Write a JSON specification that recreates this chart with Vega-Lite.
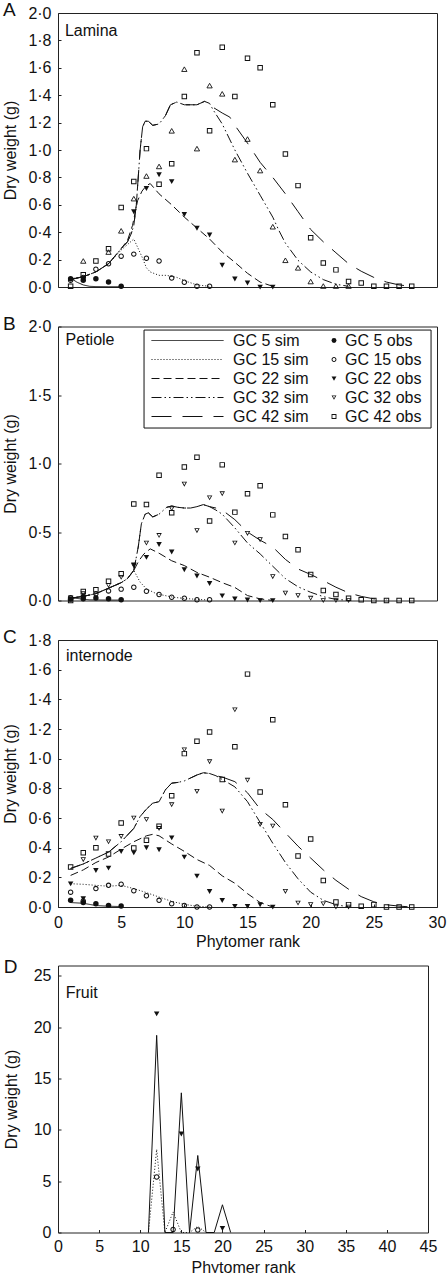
{
"$schema":"https://vega.github.io/schema/vega-lite/v6.json",
"padding":{"left":2,"top":0,"right":0,"bottom":0},
"spacing":6.5,
"config":{
 "locale":{"number":{"decimal":"·","thousands":",","grouping":[3],"currency":["",""]}},
 "font":"Liberation Sans",
 "view":{"stroke":"#222","strokeWidth":1},
 "axis":{"domain":false,"grid":false,"labelFont":"Liberation Sans","labelFontSize":16,"labelColor":"#111","titleFont":"Liberation Sans","titleFontSize":16,"titleFontWeight":"normal","titleColor":"#111","tickColor":"#222","tickSize":-3,"labelPadding":10,"labelFlush":false,"labelOverlap":false},
 "legend":{"labelFont":"Liberation Sans","labelFontSize":16,"labelColor":"#111","symbolStrokeColor":"#111","labelLimit":400},
 "title":{"fontSize":19,"fontWeight":"normal","anchor":"start","frame":"bounds","baseline":"alphabetic","offset":-15,"font":"Liberation Sans","color":"#111"}
},
"datasets":{
"sim":[
{"p":"A","s":"GC 5 sim","x":1,"y":0.065},{"p":"A","s":"GC 5 sim","x":1.5,"y":0.035},{"p":"A","s":"GC 5 sim","x":2,"y":0.015},{"p":"A","s":"GC 5 sim","x":2.5,"y":0.005},{"p":"A","s":"GC 5 sim","x":3,"y":0.003},{"p":"A","s":"GC 5 sim","x":4,"y":0.002},{"p":"A","s":"GC 5 sim","x":5,"y":0.002},
{"p":"A","s":"GC 15 sim","x":1,"y":0.06},{"p":"A","s":"GC 15 sim","x":2,"y":0.075},{"p":"A","s":"GC 15 sim","x":3,"y":0.11},{"p":"A","s":"GC 15 sim","x":4,"y":0.17},{"p":"A","s":"GC 15 sim","x":5,"y":0.27},{"p":"A","s":"GC 15 sim","x":5.5,"y":0.31},{"p":"A","s":"GC 15 sim","x":6,"y":0.35},{"p":"A","s":"GC 15 sim","x":6.3,"y":0.29},{"p":"A","s":"GC 15 sim","x":6.65,"y":0.22},{"p":"A","s":"GC 15 sim","x":7,"y":0.14},{"p":"A","s":"GC 15 sim","x":7.3,"y":0.11},{"p":"A","s":"GC 15 sim","x":8,"y":0.085},{"p":"A","s":"GC 15 sim","x":8.6,"y":0.085},{"p":"A","s":"GC 15 sim","x":9.4,"y":0.07},{"p":"A","s":"GC 15 sim","x":10.2,"y":0.04},{"p":"A","s":"GC 15 sim","x":11,"y":0.015},{"p":"A","s":"GC 15 sim","x":12,"y":0.005},
{"p":"A","s":"GC 22 sim","x":1,"y":0.055},{"p":"A","s":"GC 22 sim","x":2,"y":0.075},{"p":"A","s":"GC 22 sim","x":3,"y":0.11},{"p":"A","s":"GC 22 sim","x":4,"y":0.17},{"p":"A","s":"GC 22 sim","x":5,"y":0.28},{"p":"A","s":"GC 22 sim","x":5.5,"y":0.34},{"p":"A","s":"GC 22 sim","x":5.9,"y":0.45},{"p":"A","s":"GC 22 sim","x":6.3,"y":0.63},{"p":"A","s":"GC 22 sim","x":6.65,"y":0.7},{"p":"A","s":"GC 22 sim","x":7,"y":0.74},{"p":"A","s":"GC 22 sim","x":7.3,"y":0.755},{"p":"A","s":"GC 22 sim","x":8,"y":0.68},{"p":"A","s":"GC 22 sim","x":9,"y":0.6},{"p":"A","s":"GC 22 sim","x":10,"y":0.51},{"p":"A","s":"GC 22 sim","x":11,"y":0.43},{"p":"A","s":"GC 22 sim","x":12,"y":0.35},{"p":"A","s":"GC 22 sim","x":13,"y":0.255},{"p":"A","s":"GC 22 sim","x":14,"y":0.18},{"p":"A","s":"GC 22 sim","x":15,"y":0.1},{"p":"A","s":"GC 22 sim","x":16,"y":0.036},{"p":"A","s":"GC 22 sim","x":17,"y":0.005},
{"p":"A","s":"GC 32 sim","x":1,"y":0.055},{"p":"A","s":"GC 32 sim","x":2,"y":0.075},{"p":"A","s":"GC 32 sim","x":3,"y":0.11},{"p":"A","s":"GC 32 sim","x":4,"y":0.17},{"p":"A","s":"GC 32 sim","x":5,"y":0.28},{"p":"A","s":"GC 32 sim","x":5.5,"y":0.33},{"p":"A","s":"GC 32 sim","x":5.8,"y":0.39},{"p":"A","s":"GC 32 sim","x":6,"y":0.45},{"p":"A","s":"GC 32 sim","x":6.2,"y":0.6},{"p":"A","s":"GC 32 sim","x":6.5,"y":1.0},{"p":"A","s":"GC 32 sim","x":6.7,"y":1.17},{"p":"A","s":"GC 32 sim","x":6.9,"y":1.21},{"p":"A","s":"GC 32 sim","x":7.15,"y":1.21},{"p":"A","s":"GC 32 sim","x":7.5,"y":1.18},{"p":"A","s":"GC 32 sim","x":8,"y":1.19},{"p":"A","s":"GC 32 sim","x":8.5,"y":1.25},{"p":"A","s":"GC 32 sim","x":8.9,"y":1.33},{"p":"A","s":"GC 32 sim","x":9.4,"y":1.35},{"p":"A","s":"GC 32 sim","x":10,"y":1.33},{"p":"A","s":"GC 32 sim","x":11,"y":1.33},{"p":"A","s":"GC 32 sim","x":11.6,"y":1.355},{"p":"A","s":"GC 32 sim","x":12,"y":1.34},{"p":"A","s":"GC 32 sim","x":12.3,"y":1.29},{"p":"A","s":"GC 32 sim","x":13,"y":1.19},{"p":"A","s":"GC 32 sim","x":14,"y":1.0},{"p":"A","s":"GC 32 sim","x":15,"y":0.83},{"p":"A","s":"GC 32 sim","x":16,"y":0.67},{"p":"A","s":"GC 32 sim","x":17,"y":0.51},{"p":"A","s":"GC 32 sim","x":17.5,"y":0.41},{"p":"A","s":"GC 32 sim","x":18,"y":0.32},{"p":"A","s":"GC 32 sim","x":19,"y":0.195},{"p":"A","s":"GC 32 sim","x":20,"y":0.11},{"p":"A","s":"GC 32 sim","x":21,"y":0.054},{"p":"A","s":"GC 32 sim","x":22,"y":0.02},{"p":"A","s":"GC 32 sim","x":23,"y":0.005},
{"p":"A","s":"GC 42 sim","x":1,"y":0.055},{"p":"A","s":"GC 42 sim","x":2,"y":0.075},{"p":"A","s":"GC 42 sim","x":3,"y":0.11},{"p":"A","s":"GC 42 sim","x":4,"y":0.17},{"p":"A","s":"GC 42 sim","x":5,"y":0.28},{"p":"A","s":"GC 42 sim","x":5.5,"y":0.33},{"p":"A","s":"GC 42 sim","x":5.8,"y":0.39},{"p":"A","s":"GC 42 sim","x":6,"y":0.45},{"p":"A","s":"GC 42 sim","x":6.2,"y":0.6},{"p":"A","s":"GC 42 sim","x":6.5,"y":1.0},{"p":"A","s":"GC 42 sim","x":6.7,"y":1.17},{"p":"A","s":"GC 42 sim","x":6.9,"y":1.21},{"p":"A","s":"GC 42 sim","x":7.15,"y":1.21},{"p":"A","s":"GC 42 sim","x":7.5,"y":1.18},{"p":"A","s":"GC 42 sim","x":8,"y":1.19},{"p":"A","s":"GC 42 sim","x":8.5,"y":1.25},{"p":"A","s":"GC 42 sim","x":8.9,"y":1.33},{"p":"A","s":"GC 42 sim","x":9.4,"y":1.35},{"p":"A","s":"GC 42 sim","x":10,"y":1.33},{"p":"A","s":"GC 42 sim","x":11,"y":1.33},{"p":"A","s":"GC 42 sim","x":11.6,"y":1.355},{"p":"A","s":"GC 42 sim","x":12,"y":1.34},{"p":"A","s":"GC 42 sim","x":12.3,"y":1.31},{"p":"A","s":"GC 42 sim","x":13,"y":1.27},{"p":"A","s":"GC 42 sim","x":13.6,"y":1.24},{"p":"A","s":"GC 42 sim","x":14,"y":1.18},{"p":"A","s":"GC 42 sim","x":15,"y":1.05},{"p":"A","s":"GC 42 sim","x":16,"y":0.91},{"p":"A","s":"GC 42 sim","x":17,"y":0.8},{"p":"A","s":"GC 42 sim","x":18,"y":0.68},{"p":"A","s":"GC 42 sim","x":19,"y":0.55},{"p":"A","s":"GC 42 sim","x":20,"y":0.42},{"p":"A","s":"GC 42 sim","x":21,"y":0.33},{"p":"A","s":"GC 42 sim","x":22,"y":0.25},{"p":"A","s":"GC 42 sim","x":23,"y":0.17},{"p":"A","s":"GC 42 sim","x":24,"y":0.115},{"p":"A","s":"GC 42 sim","x":25,"y":0.07},{"p":"A","s":"GC 42 sim","x":26,"y":0.036},{"p":"A","s":"GC 42 sim","x":27,"y":0.015},{"p":"A","s":"GC 42 sim","x":28,"y":0.005},
{"p":"B","s":"GC 5 sim","x":1,"y":0.02},{"p":"B","s":"GC 5 sim","x":2,"y":0.01},{"p":"B","s":"GC 5 sim","x":2.5,"y":0.005},{"p":"B","s":"GC 5 sim","x":3,"y":0.004},{"p":"B","s":"GC 5 sim","x":4,"y":0.003},{"p":"B","s":"GC 5 sim","x":5,"y":0.003},
{"p":"B","s":"GC 15 sim","x":1,"y":0.017},{"p":"B","s":"GC 15 sim","x":2,"y":0.03},{"p":"B","s":"GC 15 sim","x":3,"y":0.05},{"p":"B","s":"GC 15 sim","x":4,"y":0.09},{"p":"B","s":"GC 15 sim","x":5,"y":0.13},{"p":"B","s":"GC 15 sim","x":5.5,"y":0.16},{"p":"B","s":"GC 15 sim","x":6,"y":0.22},{"p":"B","s":"GC 15 sim","x":6.5,"y":0.134},{"p":"B","s":"GC 15 sim","x":7,"y":0.085},{"p":"B","s":"GC 15 sim","x":7.8,"y":0.049},{"p":"B","s":"GC 15 sim","x":9.1,"y":0.024},{"p":"B","s":"GC 15 sim","x":10,"y":0.015},{"p":"B","s":"GC 15 sim","x":11.2,"y":0.007},{"p":"B","s":"GC 15 sim","x":12,"y":0.004},
{"p":"B","s":"GC 22 sim","x":1,"y":0.017},{"p":"B","s":"GC 22 sim","x":2,"y":0.03},{"p":"B","s":"GC 22 sim","x":3,"y":0.05},{"p":"B","s":"GC 22 sim","x":4,"y":0.09},{"p":"B","s":"GC 22 sim","x":5,"y":0.13},{"p":"B","s":"GC 22 sim","x":5.5,"y":0.16},{"p":"B","s":"GC 22 sim","x":6,"y":0.22},{"p":"B","s":"GC 22 sim","x":6.4,"y":0.29},{"p":"B","s":"GC 22 sim","x":6.8,"y":0.34},{"p":"B","s":"GC 22 sim","x":7.3,"y":0.377},{"p":"B","s":"GC 22 sim","x":8,"y":0.345},{"p":"B","s":"GC 22 sim","x":9,"y":0.29},{"p":"B","s":"GC 22 sim","x":10,"y":0.255},{"p":"B","s":"GC 22 sim","x":11,"y":0.205},{"p":"B","s":"GC 22 sim","x":12,"y":0.17},{"p":"B","s":"GC 22 sim","x":13,"y":0.13},{"p":"B","s":"GC 22 sim","x":14,"y":0.095},{"p":"B","s":"GC 22 sim","x":15,"y":0.036},{"p":"B","s":"GC 22 sim","x":16,"y":0.012},{"p":"B","s":"GC 22 sim","x":17,"y":0},
{"p":"B","s":"GC 32 sim","x":1,"y":0.017},{"p":"B","s":"GC 32 sim","x":2,"y":0.03},{"p":"B","s":"GC 32 sim","x":3,"y":0.05},{"p":"B","s":"GC 32 sim","x":4,"y":0.09},{"p":"B","s":"GC 32 sim","x":4.5,"y":0.11},{"p":"B","s":"GC 32 sim","x":5,"y":0.13},{"p":"B","s":"GC 32 sim","x":5.5,"y":0.16},{"p":"B","s":"GC 32 sim","x":6,"y":0.22},{"p":"B","s":"GC 32 sim","x":6.35,"y":0.39},{"p":"B","s":"GC 32 sim","x":6.6,"y":0.56},{"p":"B","s":"GC 32 sim","x":6.9,"y":0.63},{"p":"B","s":"GC 32 sim","x":7.15,"y":0.64},{"p":"B","s":"GC 32 sim","x":7.5,"y":0.61},{"p":"B","s":"GC 32 sim","x":8,"y":0.63},{"p":"B","s":"GC 32 sim","x":8.6,"y":0.68},{"p":"B","s":"GC 32 sim","x":9,"y":0.69},{"p":"B","s":"GC 32 sim","x":9.5,"y":0.68},{"p":"B","s":"GC 32 sim","x":10,"y":0.675},{"p":"B","s":"GC 32 sim","x":10.5,"y":0.675},{"p":"B","s":"GC 32 sim","x":11,"y":0.685},{"p":"B","s":"GC 32 sim","x":11.5,"y":0.7},{"p":"B","s":"GC 32 sim","x":12,"y":0.685},{"p":"B","s":"GC 32 sim","x":12.5,"y":0.66},{"p":"B","s":"GC 32 sim","x":13,"y":0.63},{"p":"B","s":"GC 32 sim","x":14,"y":0.53},{"p":"B","s":"GC 32 sim","x":15,"y":0.42},{"p":"B","s":"GC 32 sim","x":16,"y":0.34},{"p":"B","s":"GC 32 sim","x":17,"y":0.25},{"p":"B","s":"GC 32 sim","x":18,"y":0.16},{"p":"B","s":"GC 32 sim","x":19,"y":0.1},{"p":"B","s":"GC 32 sim","x":20,"y":0.06},{"p":"B","s":"GC 32 sim","x":21,"y":0.028},{"p":"B","s":"GC 32 sim","x":22,"y":0.008},{"p":"B","s":"GC 32 sim","x":23,"y":0.002},
{"p":"B","s":"GC 42 sim","x":1,"y":0.017},{"p":"B","s":"GC 42 sim","x":2,"y":0.03},{"p":"B","s":"GC 42 sim","x":3,"y":0.05},{"p":"B","s":"GC 42 sim","x":4,"y":0.09},{"p":"B","s":"GC 42 sim","x":4.5,"y":0.11},{"p":"B","s":"GC 42 sim","x":5,"y":0.13},{"p":"B","s":"GC 42 sim","x":5.5,"y":0.16},{"p":"B","s":"GC 42 sim","x":6,"y":0.22},{"p":"B","s":"GC 42 sim","x":6.35,"y":0.39},{"p":"B","s":"GC 42 sim","x":6.6,"y":0.56},{"p":"B","s":"GC 42 sim","x":6.9,"y":0.63},{"p":"B","s":"GC 42 sim","x":7.15,"y":0.64},{"p":"B","s":"GC 42 sim","x":7.5,"y":0.61},{"p":"B","s":"GC 42 sim","x":8,"y":0.63},{"p":"B","s":"GC 42 sim","x":8.6,"y":0.68},{"p":"B","s":"GC 42 sim","x":9,"y":0.69},{"p":"B","s":"GC 42 sim","x":9.5,"y":0.68},{"p":"B","s":"GC 42 sim","x":10,"y":0.675},{"p":"B","s":"GC 42 sim","x":10.5,"y":0.675},{"p":"B","s":"GC 42 sim","x":11,"y":0.685},{"p":"B","s":"GC 42 sim","x":11.5,"y":0.7},{"p":"B","s":"GC 42 sim","x":12,"y":0.685},{"p":"B","s":"GC 42 sim","x":12.5,"y":0.675},{"p":"B","s":"GC 42 sim","x":13,"y":0.66},{"p":"B","s":"GC 42 sim","x":14,"y":0.59},{"p":"B","s":"GC 42 sim","x":15,"y":0.5},{"p":"B","s":"GC 42 sim","x":16,"y":0.44},{"p":"B","s":"GC 42 sim","x":17,"y":0.39},{"p":"B","s":"GC 42 sim","x":18,"y":0.3},{"p":"B","s":"GC 42 sim","x":19,"y":0.23},{"p":"B","s":"GC 42 sim","x":20,"y":0.19},{"p":"B","s":"GC 42 sim","x":21,"y":0.145},{"p":"B","s":"GC 42 sim","x":22,"y":0.097},{"p":"B","s":"GC 42 sim","x":23,"y":0.056},{"p":"B","s":"GC 42 sim","x":24,"y":0.03},{"p":"B","s":"GC 42 sim","x":25,"y":0.012},{"p":"B","s":"GC 42 sim","x":26,"y":0.005},
{"p":"C","s":"GC 5 sim","x":1,"y":0.03},{"p":"C","s":"GC 5 sim","x":2,"y":0.025},{"p":"C","s":"GC 5 sim","x":3,"y":0.01},{"p":"C","s":"GC 5 sim","x":4,"y":0.005},{"p":"C","s":"GC 5 sim","x":5,"y":0.003},
{"p":"C","s":"GC 15 sim","x":1,"y":0.157},{"p":"C","s":"GC 15 sim","x":2,"y":0.153},{"p":"C","s":"GC 15 sim","x":3,"y":0.146},{"p":"C","s":"GC 15 sim","x":4,"y":0.14},{"p":"C","s":"GC 15 sim","x":5,"y":0.146},{"p":"C","s":"GC 15 sim","x":6,"y":0.124},{"p":"C","s":"GC 15 sim","x":7,"y":0.097},{"p":"C","s":"GC 15 sim","x":8,"y":0.067},{"p":"C","s":"GC 15 sim","x":9,"y":0.038},{"p":"C","s":"GC 15 sim","x":10,"y":0.018},{"p":"C","s":"GC 15 sim","x":11,"y":0.005},{"p":"C","s":"GC 15 sim","x":12,"y":0},
{"p":"C","s":"GC 22 sim","x":1,"y":0.213},{"p":"C","s":"GC 22 sim","x":2,"y":0.25},{"p":"C","s":"GC 22 sim","x":3,"y":0.3},{"p":"C","s":"GC 22 sim","x":4,"y":0.337},{"p":"C","s":"GC 22 sim","x":5,"y":0.39},{"p":"C","s":"GC 22 sim","x":6,"y":0.44},{"p":"C","s":"GC 22 sim","x":7,"y":0.48},{"p":"C","s":"GC 22 sim","x":7.5,"y":0.49},{"p":"C","s":"GC 22 sim","x":8,"y":0.48},{"p":"C","s":"GC 22 sim","x":9,"y":0.425},{"p":"C","s":"GC 22 sim","x":10,"y":0.375},{"p":"C","s":"GC 22 sim","x":11,"y":0.32},{"p":"C","s":"GC 22 sim","x":12,"y":0.28},{"p":"C","s":"GC 22 sim","x":13,"y":0.21},{"p":"C","s":"GC 22 sim","x":14,"y":0.16},{"p":"C","s":"GC 22 sim","x":15,"y":0.09},{"p":"C","s":"GC 22 sim","x":16,"y":0.03},{"p":"C","s":"GC 22 sim","x":17,"y":0},
{"p":"C","s":"GC 32 sim","x":1,"y":0.26},{"p":"C","s":"GC 32 sim","x":2,"y":0.29},{"p":"C","s":"GC 32 sim","x":3,"y":0.33},{"p":"C","s":"GC 32 sim","x":4,"y":0.37},{"p":"C","s":"GC 32 sim","x":5,"y":0.44},{"p":"C","s":"GC 32 sim","x":6,"y":0.53},{"p":"C","s":"GC 32 sim","x":6.5,"y":0.61},{"p":"C","s":"GC 32 sim","x":7,"y":0.66},{"p":"C","s":"GC 32 sim","x":7.5,"y":0.7},{"p":"C","s":"GC 32 sim","x":8,"y":0.71},{"p":"C","s":"GC 32 sim","x":8.5,"y":0.79},{"p":"C","s":"GC 32 sim","x":9,"y":0.835},{"p":"C","s":"GC 32 sim","x":9.5,"y":0.84},{"p":"C","s":"GC 32 sim","x":10,"y":0.85},{"p":"C","s":"GC 32 sim","x":10.5,"y":0.87},{"p":"C","s":"GC 32 sim","x":11,"y":0.89},{"p":"C","s":"GC 32 sim","x":11.5,"y":0.905},{"p":"C","s":"GC 32 sim","x":12,"y":0.9},{"p":"C","s":"GC 32 sim","x":12.5,"y":0.885},{"p":"C","s":"GC 32 sim","x":13,"y":0.86},{"p":"C","s":"GC 32 sim","x":14,"y":0.81},{"p":"C","s":"GC 32 sim","x":15,"y":0.71},{"p":"C","s":"GC 32 sim","x":16,"y":0.57},{"p":"C","s":"GC 32 sim","x":17,"y":0.43},{"p":"C","s":"GC 32 sim","x":18,"y":0.3},{"p":"C","s":"GC 32 sim","x":19,"y":0.19},{"p":"C","s":"GC 32 sim","x":20,"y":0.1},{"p":"C","s":"GC 32 sim","x":21,"y":0.045},{"p":"C","s":"GC 32 sim","x":22,"y":0.016},{"p":"C","s":"GC 32 sim","x":23,"y":0},
{"p":"C","s":"GC 42 sim","x":1,"y":0.26},{"p":"C","s":"GC 42 sim","x":2,"y":0.29},{"p":"C","s":"GC 42 sim","x":3,"y":0.33},{"p":"C","s":"GC 42 sim","x":4,"y":0.37},{"p":"C","s":"GC 42 sim","x":5,"y":0.44},{"p":"C","s":"GC 42 sim","x":6,"y":0.53},{"p":"C","s":"GC 42 sim","x":6.5,"y":0.61},{"p":"C","s":"GC 42 sim","x":7,"y":0.66},{"p":"C","s":"GC 42 sim","x":7.5,"y":0.7},{"p":"C","s":"GC 42 sim","x":8,"y":0.71},{"p":"C","s":"GC 42 sim","x":8.5,"y":0.79},{"p":"C","s":"GC 42 sim","x":9,"y":0.835},{"p":"C","s":"GC 42 sim","x":9.5,"y":0.84},{"p":"C","s":"GC 42 sim","x":10,"y":0.85},{"p":"C","s":"GC 42 sim","x":10.5,"y":0.87},{"p":"C","s":"GC 42 sim","x":11,"y":0.89},{"p":"C","s":"GC 42 sim","x":11.5,"y":0.905},{"p":"C","s":"GC 42 sim","x":12,"y":0.9},{"p":"C","s":"GC 42 sim","x":12.5,"y":0.885},{"p":"C","s":"GC 42 sim","x":13,"y":0.876},{"p":"C","s":"GC 42 sim","x":14,"y":0.845},{"p":"C","s":"GC 42 sim","x":15,"y":0.77},{"p":"C","s":"GC 42 sim","x":16,"y":0.66},{"p":"C","s":"GC 42 sim","x":17,"y":0.59},{"p":"C","s":"GC 42 sim","x":18,"y":0.5},{"p":"C","s":"GC 42 sim","x":19,"y":0.41},{"p":"C","s":"GC 42 sim","x":20,"y":0.33},{"p":"C","s":"GC 42 sim","x":21,"y":0.25},{"p":"C","s":"GC 42 sim","x":22,"y":0.18},{"p":"C","s":"GC 42 sim","x":23,"y":0.12},{"p":"C","s":"GC 42 sim","x":24,"y":0.07},{"p":"C","s":"GC 42 sim","x":25,"y":0.035},{"p":"C","s":"GC 42 sim","x":26,"y":0.015},{"p":"C","s":"GC 42 sim","x":27,"y":0.006},{"p":"C","s":"GC 42 sim","x":28,"y":0},
{"p":"D","s":"GC 22 sim","x":11,"y":0},{"p":"D","s":"GC 22 sim","x":12,"y":19.2},{"p":"D","s":"GC 22 sim","x":13,"y":0},{"p":"D","s":"GC 22 sim","x":14,"y":0},{"p":"D","s":"GC 22 sim","x":15,"y":13.6},{"p":"D","s":"GC 22 sim","x":16,"y":0},{"p":"D","s":"GC 22 sim","x":17,"y":7.5},{"p":"D","s":"GC 22 sim","x":18,"y":0},{"p":"D","s":"GC 22 sim","x":19,"y":0},{"p":"D","s":"GC 22 sim","x":20,"y":2.7},{"p":"D","s":"GC 22 sim","x":21,"y":0},
{"p":"D","s":"GC 15 sim","x":11,"y":0},{"p":"D","s":"GC 15 sim","x":12,"y":8.1},{"p":"D","s":"GC 15 sim","x":13,"y":0},{"p":"D","s":"GC 15 sim","x":14,"y":2.0},{"p":"D","s":"GC 15 sim","x":15,"y":0},{"p":"D","s":"GC 15 sim","x":16,"y":0},{"p":"D","s":"GC 15 sim","x":17,"y":0.6},{"p":"D","s":"GC 15 sim","x":18,"y":0}
],
"obs":[
{"p":"A","s":"GC 5 obs","x":1,"y":0.06},{"p":"A","s":"GC 5 obs","x":2,"y":0.05},{"p":"A","s":"GC 5 obs","x":3,"y":0.061},{"p":"A","s":"GC 5 obs","x":4,"y":0.037},{"p":"A","s":"GC 5 obs","x":5,"y":0.005},
{"p":"A","s":"GC 15 obs","x":1,"y":0.05},{"p":"A","s":"GC 15 obs","x":2,"y":0.07},{"p":"A","s":"GC 15 obs","x":3,"y":0.13},{"p":"A","s":"GC 15 obs","x":4,"y":0.17},{"p":"A","s":"GC 15 obs","x":5,"y":0.225},{"p":"A","s":"GC 15 obs","x":6,"y":0.24},{"p":"A","s":"GC 15 obs","x":7,"y":0.21},{"p":"A","s":"GC 15 obs","x":8,"y":0.19},{"p":"A","s":"GC 15 obs","x":9,"y":0.065},{"p":"A","s":"GC 15 obs","x":10,"y":0.035},{"p":"A","s":"GC 15 obs","x":11,"y":0.005},{"p":"A","s":"GC 15 obs","x":12,"y":0.005},
{"p":"A","s":"GC 22 obs","x":2,"y":0.06},{"p":"A","s":"GC 22 obs","x":6,"y":0.55},{"p":"A","s":"GC 22 obs","x":7,"y":0.72},{"p":"A","s":"GC 22 obs","x":8,"y":0.82},{"p":"A","s":"GC 22 obs","x":9,"y":0.77},{"p":"A","s":"GC 22 obs","x":10,"y":0.53},{"p":"A","s":"GC 22 obs","x":11,"y":0.43},{"p":"A","s":"GC 22 obs","x":12,"y":0.38},{"p":"A","s":"GC 22 obs","x":13,"y":0.16},{"p":"A","s":"GC 22 obs","x":14,"y":0.06},{"p":"A","s":"GC 22 obs","x":15,"y":0.03},{"p":"A","s":"GC 22 obs","x":16,"y":0},{"p":"A","s":"GC 22 obs","x":17,"y":0},
{"p":"A","s":"GC 32 obs","x":2,"y":0.19},{"p":"A","s":"GC 32 obs","x":4,"y":0.255},{"p":"A","s":"GC 32 obs","x":5,"y":0.41},{"p":"A","s":"GC 32 obs","x":6,"y":0.645},{"p":"A","s":"GC 32 obs","x":7,"y":0.81},{"p":"A","s":"GC 32 obs","x":8,"y":0.88},{"p":"A","s":"GC 32 obs","x":9,"y":1.14},{"p":"A","s":"GC 32 obs","x":10,"y":1.59},{"p":"A","s":"GC 32 obs","x":11,"y":1.01},{"p":"A","s":"GC 32 obs","x":12,"y":1.47},{"p":"A","s":"GC 32 obs","x":13,"y":1.41},{"p":"A","s":"GC 32 obs","x":14,"y":0.93},{"p":"A","s":"GC 32 obs","x":15,"y":1.08},{"p":"A","s":"GC 32 obs","x":16,"y":0.85},{"p":"A","s":"GC 32 obs","x":17,"y":0.44},{"p":"A","s":"GC 32 obs","x":18,"y":0.195},{"p":"A","s":"GC 32 obs","x":19,"y":0.14},{"p":"A","s":"GC 32 obs","x":20,"y":0.04},{"p":"A","s":"GC 32 obs","x":21,"y":0.007},{"p":"A","s":"GC 32 obs","x":22,"y":0.007},{"p":"A","s":"GC 32 obs","x":23,"y":0.007},
{"p":"A","s":"GC 42 obs","x":1,"y":0.005},{"p":"A","s":"GC 42 obs","x":2,"y":0.09},{"p":"A","s":"GC 42 obs","x":3,"y":0.19},{"p":"A","s":"GC 42 obs","x":4,"y":0.28},{"p":"A","s":"GC 42 obs","x":5,"y":0.58},{"p":"A","s":"GC 42 obs","x":6,"y":0.77},{"p":"A","s":"GC 42 obs","x":7,"y":1.01},{"p":"A","s":"GC 42 obs","x":8,"y":0.75},{"p":"A","s":"GC 42 obs","x":9,"y":0.9},{"p":"A","s":"GC 42 obs","x":10,"y":1.39},{"p":"A","s":"GC 42 obs","x":11,"y":1.71},{"p":"A","s":"GC 42 obs","x":12,"y":1.14},{"p":"A","s":"GC 42 obs","x":13,"y":1.75},{"p":"A","s":"GC 42 obs","x":14,"y":1.39},{"p":"A","s":"GC 42 obs","x":15,"y":1.67},{"p":"A","s":"GC 42 obs","x":16,"y":1.6},{"p":"A","s":"GC 42 obs","x":17,"y":1.33},{"p":"A","s":"GC 42 obs","x":18,"y":0.97},{"p":"A","s":"GC 42 obs","x":19,"y":0.74},{"p":"A","s":"GC 42 obs","x":20,"y":0.36},{"p":"A","s":"GC 42 obs","x":21,"y":0.175},{"p":"A","s":"GC 42 obs","x":22,"y":0.125},{"p":"A","s":"GC 42 obs","x":23,"y":0.04},{"p":"A","s":"GC 42 obs","x":24,"y":0.03},{"p":"A","s":"GC 42 obs","x":25,"y":0.005},{"p":"A","s":"GC 42 obs","x":26,"y":0.005},{"p":"A","s":"GC 42 obs","x":27,"y":0.005},{"p":"A","s":"GC 42 obs","x":28,"y":0.005},
{"p":"B","s":"GC 5 obs","x":1,"y":0.01},{"p":"B","s":"GC 5 obs","x":2,"y":0.012},{"p":"B","s":"GC 5 obs","x":3,"y":0.019},{"p":"B","s":"GC 5 obs","x":4,"y":0.012},{"p":"B","s":"GC 5 obs","x":5,"y":0.005},
{"p":"B","s":"GC 15 obs","x":1,"y":0.02},{"p":"B","s":"GC 15 obs","x":2,"y":0.03},{"p":"B","s":"GC 15 obs","x":3,"y":0.05},{"p":"B","s":"GC 15 obs","x":4,"y":0.07},{"p":"B","s":"GC 15 obs","x":5,"y":0.083},{"p":"B","s":"GC 15 obs","x":6,"y":0.097},{"p":"B","s":"GC 15 obs","x":7,"y":0.068},{"p":"B","s":"GC 15 obs","x":8,"y":0.044},{"p":"B","s":"GC 15 obs","x":9,"y":0.024},{"p":"B","s":"GC 15 obs","x":10,"y":0.017},{"p":"B","s":"GC 15 obs","x":11,"y":0.005},{"p":"B","s":"GC 15 obs","x":12,"y":0.005},
{"p":"B","s":"GC 22 obs","x":1,"y":0.01},{"p":"B","s":"GC 22 obs","x":2,"y":0.025},{"p":"B","s":"GC 22 obs","x":6,"y":0.26},{"p":"B","s":"GC 22 obs","x":7,"y":0.316},{"p":"B","s":"GC 22 obs","x":8,"y":0.41},{"p":"B","s":"GC 22 obs","x":9,"y":0.355},{"p":"B","s":"GC 22 obs","x":10,"y":0.225},{"p":"B","s":"GC 22 obs","x":11,"y":0.18},{"p":"B","s":"GC 22 obs","x":12,"y":0.125},{"p":"B","s":"GC 22 obs","x":13,"y":0.035},{"p":"B","s":"GC 22 obs","x":14,"y":0.012},{"p":"B","s":"GC 22 obs","x":15,"y":0.005},{"p":"B","s":"GC 22 obs","x":16,"y":0},{"p":"B","s":"GC 22 obs","x":17,"y":0},
{"p":"B","s":"GC 32 obs","x":1,"y":0.02},{"p":"B","s":"GC 32 obs","x":2,"y":0.05},{"p":"B","s":"GC 32 obs","x":4,"y":0.11},{"p":"B","s":"GC 32 obs","x":5,"y":0.17},{"p":"B","s":"GC 32 obs","x":6,"y":0.255},{"p":"B","s":"GC 32 obs","x":7,"y":0.42},{"p":"B","s":"GC 32 obs","x":8,"y":0.475},{"p":"B","s":"GC 32 obs","x":9,"y":0.67},{"p":"B","s":"GC 32 obs","x":10,"y":0.85},{"p":"B","s":"GC 32 obs","x":11,"y":0.51},{"p":"B","s":"GC 32 obs","x":12,"y":0.75},{"p":"B","s":"GC 32 obs","x":13,"y":0.78},{"p":"B","s":"GC 32 obs","x":14,"y":0.42},{"p":"B","s":"GC 32 obs","x":15,"y":0.49},{"p":"B","s":"GC 32 obs","x":16,"y":0.445},{"p":"B","s":"GC 32 obs","x":17,"y":0.175},{"p":"B","s":"GC 32 obs","x":18,"y":0.054},{"p":"B","s":"GC 32 obs","x":19,"y":0.036},{"p":"B","s":"GC 32 obs","x":20,"y":0.017},{"p":"B","s":"GC 32 obs","x":21,"y":0},{"p":"B","s":"GC 32 obs","x":22,"y":0},{"p":"B","s":"GC 32 obs","x":23,"y":0},
{"p":"B","s":"GC 42 obs","x":1,"y":0},{"p":"B","s":"GC 42 obs","x":2,"y":0.065},{"p":"B","s":"GC 42 obs","x":3,"y":0.078},{"p":"B","s":"GC 42 obs","x":4,"y":0.14},{"p":"B","s":"GC 42 obs","x":5,"y":0.195},{"p":"B","s":"GC 42 obs","x":6,"y":0.705},{"p":"B","s":"GC 42 obs","x":7,"y":0.7},{"p":"B","s":"GC 42 obs","x":8,"y":0.915},{"p":"B","s":"GC 42 obs","x":9,"y":0.64},{"p":"B","s":"GC 42 obs","x":10,"y":0.975},{"p":"B","s":"GC 42 obs","x":11,"y":1.045},{"p":"B","s":"GC 42 obs","x":12,"y":0.58},{"p":"B","s":"GC 42 obs","x":13,"y":0.99},{"p":"B","s":"GC 42 obs","x":14,"y":0.645},{"p":"B","s":"GC 42 obs","x":15,"y":0.78},{"p":"B","s":"GC 42 obs","x":16,"y":0.837},{"p":"B","s":"GC 42 obs","x":17,"y":0.625},{"p":"B","s":"GC 42 obs","x":18,"y":0.467},{"p":"B","s":"GC 42 obs","x":19,"y":0.37},{"p":"B","s":"GC 42 obs","x":20,"y":0.19},{"p":"B","s":"GC 42 obs","x":21,"y":0.073},{"p":"B","s":"GC 42 obs","x":22,"y":0.044},{"p":"B","s":"GC 42 obs","x":23,"y":0.017},{"p":"B","s":"GC 42 obs","x":24,"y":0.005},{"p":"B","s":"GC 42 obs","x":25,"y":0},{"p":"B","s":"GC 42 obs","x":26,"y":0},{"p":"B","s":"GC 42 obs","x":27,"y":0},{"p":"B","s":"GC 42 obs","x":28,"y":0},
{"p":"C","s":"GC 5 obs","x":1,"y":0.045},{"p":"C","s":"GC 5 obs","x":2,"y":0.03},{"p":"C","s":"GC 5 obs","x":3,"y":0.022},{"p":"C","s":"GC 5 obs","x":4,"y":0.011},{"p":"C","s":"GC 5 obs","x":5,"y":0.007},
{"p":"C","s":"GC 15 obs","x":1,"y":0.1},{"p":"C","s":"GC 15 obs","x":2,"y":0.04},{"p":"C","s":"GC 15 obs","x":3,"y":0.124},{"p":"C","s":"GC 15 obs","x":4,"y":0.146},{"p":"C","s":"GC 15 obs","x":5,"y":0.153},{"p":"C","s":"GC 15 obs","x":6,"y":0.11},{"p":"C","s":"GC 15 obs","x":7,"y":0.076},{"p":"C","s":"GC 15 obs","x":8,"y":0.045},{"p":"C","s":"GC 15 obs","x":9,"y":0.022},{"p":"C","s":"GC 15 obs","x":10,"y":0.011},{"p":"C","s":"GC 15 obs","x":11,"y":0},{"p":"C","s":"GC 15 obs","x":12,"y":0},
{"p":"C","s":"GC 22 obs","x":1,"y":0.157},{"p":"C","s":"GC 22 obs","x":2,"y":0.056},{"p":"C","s":"GC 22 obs","x":3,"y":0.247},{"p":"C","s":"GC 22 obs","x":4,"y":0.263},{"p":"C","s":"GC 22 obs","x":5,"y":0.375},{"p":"C","s":"GC 22 obs","x":6,"y":0.366},{"p":"C","s":"GC 22 obs","x":7,"y":0.4},{"p":"C","s":"GC 22 obs","x":8,"y":0.387},{"p":"C","s":"GC 22 obs","x":9,"y":0.467},{"p":"C","s":"GC 22 obs","x":10,"y":0.337},{"p":"C","s":"GC 22 obs","x":11,"y":0.209},{"p":"C","s":"GC 22 obs","x":12,"y":0.106},{"p":"C","s":"GC 22 obs","x":13,"y":0.045},{"p":"C","s":"GC 22 obs","x":14,"y":0.005},{"p":"C","s":"GC 22 obs","x":15,"y":0.005},{"p":"C","s":"GC 22 obs","x":16,"y":0.016},{"p":"C","s":"GC 22 obs","x":17,"y":0},
{"p":"C","s":"GC 32 obs","x":2,"y":0.32},{"p":"C","s":"GC 32 obs","x":3,"y":0.465},{"p":"C","s":"GC 32 obs","x":4,"y":0.44},{"p":"C","s":"GC 32 obs","x":5,"y":0.476},{"p":"C","s":"GC 32 obs","x":6,"y":0.6},{"p":"C","s":"GC 32 obs","x":7,"y":0.59},{"p":"C","s":"GC 32 obs","x":8,"y":0.53},{"p":"C","s":"GC 32 obs","x":9,"y":0.69},{"p":"C","s":"GC 32 obs","x":10,"y":1.06},{"p":"C","s":"GC 32 obs","x":11,"y":0.78},{"p":"C","s":"GC 32 obs","x":12,"y":0.98},{"p":"C","s":"GC 32 obs","x":13,"y":0.647},{"p":"C","s":"GC 32 obs","x":14,"y":1.33},{"p":"C","s":"GC 32 obs","x":15,"y":0.855},{"p":"C","s":"GC 32 obs","x":16,"y":0.557},{"p":"C","s":"GC 32 obs","x":17,"y":0.546},{"p":"C","s":"GC 32 obs","x":18,"y":0.106},{"p":"C","s":"GC 32 obs","x":19,"y":0.027},{"p":"C","s":"GC 32 obs","x":20,"y":0.016},{"p":"C","s":"GC 32 obs","x":21,"y":0.022},{"p":"C","s":"GC 32 obs","x":22,"y":0},{"p":"C","s":"GC 32 obs","x":23,"y":0},
{"p":"C","s":"GC 42 obs","x":1,"y":0.27},{"p":"C","s":"GC 42 obs","x":2,"y":0.366},{"p":"C","s":"GC 42 obs","x":3,"y":0.4},{"p":"C","s":"GC 42 obs","x":4,"y":0.357},{"p":"C","s":"GC 42 obs","x":5,"y":0.566},{"p":"C","s":"GC 42 obs","x":6,"y":0.398},{"p":"C","s":"GC 42 obs","x":7,"y":0.45},{"p":"C","s":"GC 42 obs","x":8,"y":0.544},{"p":"C","s":"GC 42 obs","x":9,"y":0.75},{"p":"C","s":"GC 42 obs","x":10,"y":1.034},{"p":"C","s":"GC 42 obs","x":11,"y":1.117},{"p":"C","s":"GC 42 obs","x":12,"y":1.18},{"p":"C","s":"GC 42 obs","x":13,"y":0.86},{"p":"C","s":"GC 42 obs","x":14,"y":1.08},{"p":"C","s":"GC 42 obs","x":15,"y":1.57},{"p":"C","s":"GC 42 obs","x":16,"y":0.775},{"p":"C","s":"GC 42 obs","x":17,"y":1.263},{"p":"C","s":"GC 42 obs","x":18,"y":0.69},{"p":"C","s":"GC 42 obs","x":19,"y":0.344},{"p":"C","s":"GC 42 obs","x":20,"y":0.458},{"p":"C","s":"GC 42 obs","x":21,"y":0.178},{"p":"C","s":"GC 42 obs","x":22,"y":0.034},{"p":"C","s":"GC 42 obs","x":23,"y":0.016},{"p":"C","s":"GC 42 obs","x":24,"y":0.005},{"p":"C","s":"GC 42 obs","x":25,"y":0.016},{"p":"C","s":"GC 42 obs","x":26,"y":0},{"p":"C","s":"GC 42 obs","x":27,"y":0},{"p":"C","s":"GC 42 obs","x":28,"y":0},
{"p":"D","s":"GC 22 obs","x":12,"y":21.3},{"p":"D","s":"GC 22 obs","x":15,"y":9.6},{"p":"D","s":"GC 22 obs","x":17,"y":6.2},{"p":"D","s":"GC 22 obs","x":20,"y":0.4},
{"p":"D","s":"GC 15 obs","x":12,"y":5.4},{"p":"D","s":"GC 15 obs","x":14,"y":0.3},{"p":"D","s":"GC 15 obs","x":17,"y":0.25}
]
},
"vconcat":[
{
 "width":379,"height":274,
 "title":{"text":"A"},
 "layer":[
  {"data":{"name":"sim"},"transform":[{"filter":"datum.p=='A'"}],
   "mark":{"type":"line","color":"#111","strokeWidth":1},
   "encoding":{
    "x":{"field":"x","type":"quantitative","scale":{"domain":[0,30]},"axis":{"values":[0,5,10,15,20,25,30],"labels":false,"title":null,"tickSize":19.3,"tickOpacity":0}},
    "y":{"field":"y","type":"quantitative","scale":{"domain":[0,2]},"axis":{"title":"Dry weight (g)","values":[0,0.2,0.4,0.6,0.8,1,1.2,1.4,1.6,1.8,2],"tickCount":30,"format":".1f","titlePadding":9,"labelOverlap":false}},
    "strokeDash":{"field":"s","type":"nominal","scale":{"domain":["GC 5 sim","GC 15 sim","GC 22 sim","GC 32 sim","GC 42 sim"],"range":[[1,0],[1,2],[8,4],[10,3,1.5,3,1.5,3],[20,11]]}}
   }},
  {"data":{"name":"obs"},"transform":[{"filter":"datum.p=='A' && datum.s!='GC 32 obs'"}],
   "mark":{"type":"point","filled":true,"color":"#111","size":30,"opacity":1},
   "encoding":{
    "x":{"field":"x","type":"quantitative"},
    "y":{"field":"y","type":"quantitative"},
    "shape":{"field":"s","type":"nominal","scale":{"domain":["GC 5 obs","GC 15 obs","GC 22 obs","GC 32 obs","GC 42 obs"],"range":["circle","M1,0A1,1,0,1,1,-1,0A1,1,0,1,1,1,0ZM0.62,0A0.62,0.62,0,1,0,-0.62,0A0.62,0.62,0,1,0,0.62,0Z","M-1,-0.85L1,-0.85L0,0.95Z","M-1,-0.85L1,-0.85L0,0.95ZM-0.5,-0.55L0,0.35L0.5,-0.55Z","M-1,-1L1,-1L1,1L-1,1ZM-0.64,-0.64L-0.64,0.64L0.64,0.64L0.64,-0.64Z"]}}
   }},
  {"data":{"name":"obs"},"transform":[{"filter":"datum.p=='A' && datum.s=='GC 32 obs'"}],
   "mark":{"type":"point","shape":"triangle-up","filled":false,"stroke":"#111","strokeWidth":0.9,"size":28,"opacity":1},
   "encoding":{"x":{"field":"x","type":"quantitative"},"y":{"field":"y","type":"quantitative"}}},
  {"data":{"values":[{"label":"Lamina"}]},
   "mark":{"type":"text","align":"left","baseline":"middle","fontSize":16,"font":"Liberation Sans","color":"#111"},
   "encoding":{"x":{"datum":0.55,"type":"quantitative"},"y":{"datum":1.866,"type":"quantitative"},"text":{"field":"label"}}}
 ]
},
{
 "width":379,"height":274,
 "title":{"text":"B"},
 "layer":[
  {"data":{"name":"sim"},"transform":[{"filter":"datum.p=='B'"}],
   "mark":{"type":"line","color":"#111","strokeWidth":1},
   "encoding":{
    "x":{"field":"x","type":"quantitative","scale":{"domain":[0,30]},"axis":{"values":[0,5,10,15,20,25,30],"labels":false,"title":null,"tickSize":19.3,"tickOpacity":0}},
    "y":{"field":"y","type":"quantitative","scale":{"domain":[0,2]},"axis":{"title":"Dry weight (g)","values":[0,0.5,1,1.5,2],"tickCount":30,"format":".1f","titlePadding":9,"labelOverlap":false}},
    "strokeDash":{"field":"s","type":"nominal","scale":{"domain":["GC 5 sim","GC 15 sim","GC 22 sim","GC 32 sim","GC 42 sim"],"range":[[1,0],[1,2],[8,4],[10,3,1.5,3,1.5,3],[20,11]]},
     "legend":{"orient":"none","legendX":86,"legendY":316.5,"title":null,"symbolType":"stroke","symbolSize":5184,"clipHeight":16,"symbolStrokeWidth":1,"symbolStrokeColor":"#111","padding":3,"rowPadding":3,"symbolOffset":4,"labelOffset":9}}
   }},
  {"data":{"name":"obs"},"transform":[{"filter":"datum.p=='B'"}],
   "mark":{"type":"point","filled":true,"color":"#111","size":30,"opacity":1},
   "encoding":{
    "x":{"field":"x","type":"quantitative"},
    "y":{"field":"y","type":"quantitative"},
    "shape":{"field":"s","type":"nominal","scale":{"domain":["GC 5 obs","GC 15 obs","GC 22 obs","GC 32 obs","GC 42 obs"],"range":["circle","M1,0A1,1,0,1,1,-1,0A1,1,0,1,1,1,0ZM0.62,0A0.62,0.62,0,1,0,-0.62,0A0.62,0.62,0,1,0,0.62,0Z","M-1,-0.85L1,-0.85L0,0.95Z","M-1,-0.85L1,-0.85L0,0.95ZM-0.5,-0.55L0,0.35L0.5,-0.55Z","M-1,-1L1,-1L1,1L-1,1ZM-0.64,-0.64L-0.64,0.64L0.64,0.64L0.64,-0.64Z"]},
     "legend":{"orient":"none","legendX":265,"legendY":316.5,"title":null,"symbolSize":24,"clipHeight":16,"symbolStrokeWidth":0,"symbolFillColor":"#111","padding":3,"rowPadding":3,"labelOffset":3}}
   }},
  {"data":{"values":[{"label":"Petiole"}]},
   "mark":{"type":"text","align":"left","baseline":"middle","fontSize":16,"font":"Liberation Sans","color":"#111"},
   "encoding":{"x":{"datum":0.6,"type":"quantitative"},"y":{"datum":1.903,"type":"quantitative"},"text":{"field":"label"}}},
  {"data":{"values":[{"box":"legend frame"}]},
   "mark":{"type":"rect","fill":"transparent","stroke":"#111","strokeWidth":1},
   "encoding":{"x":{"datum":6.81,"type":"quantitative"},"x2":{"datum":29.53},"y":{"datum":1.974,"type":"quantitative"},"y2":{"datum":1.259}}}
 ]
},
{
 "width":379,"height":267,
 "title":{"text":"C"},
 "layer":[
  {"data":{"name":"sim"},"transform":[{"filter":"datum.p=='C'"}],
   "mark":{"type":"line","color":"#111","strokeWidth":1},
   "encoding":{
    "x":{"field":"x","type":"quantitative","scale":{"domain":[0,30]},"axis":{"values":[0,5,10,15,20,25,30],"tickCount":30,"title":"Phytomer rank","labelPadding":10,"titlePadding":3}},
    "y":{"field":"y","type":"quantitative","scale":{"domain":[0,1.8]},"axis":{"title":"Dry weight (g)","values":[0,0.2,0.4,0.6,0.8,1,1.2,1.4,1.6,1.8],"tickCount":30,"format":".1f","titlePadding":9,"labelOverlap":false}},
    "strokeDash":{"field":"s","type":"nominal","scale":{"domain":["GC 5 sim","GC 15 sim","GC 22 sim","GC 32 sim","GC 42 sim"],"range":[[1,0],[1,2],[8,4],[10,3,1.5,3,1.5,3],[20,11]]}}
   }},
  {"data":{"name":"obs"},"transform":[{"filter":"datum.p=='C'"}],
   "mark":{"type":"point","filled":true,"color":"#111","size":30,"opacity":1},
   "encoding":{
    "x":{"field":"x","type":"quantitative"},
    "y":{"field":"y","type":"quantitative"},
    "shape":{"field":"s","type":"nominal","scale":{"domain":["GC 5 obs","GC 15 obs","GC 22 obs","GC 32 obs","GC 42 obs"],"range":["circle","M1,0A1,1,0,1,1,-1,0A1,1,0,1,1,1,0ZM0.62,0A0.62,0.62,0,1,0,-0.62,0A0.62,0.62,0,1,0,0.62,0Z","M-1,-0.85L1,-0.85L0,0.95Z","M-1,-0.85L1,-0.85L0,0.95ZM-0.5,-0.55L0,0.35L0.5,-0.55Z","M-1,-1L1,-1L1,1L-1,1ZM-0.64,-0.64L-0.64,0.64L0.64,0.64L0.64,-0.64Z"]}}
   }},
  {"data":{"values":[{"label":"internode"}]},
   "mark":{"type":"text","align":"left","baseline":"middle","fontSize":16,"font":"Liberation Sans","color":"#111"},
   "encoding":{"x":{"datum":0.63,"type":"quantitative"},"y":{"datum":1.695,"type":"quantitative"},"text":{"field":"label"}}}
 ]
},
{
 "width":370,"height":267,
 "title":{"text":"D","offset":-11},
 "layer":[
  {"data":{"name":"sim"},"transform":[{"filter":"datum.p=='D' && datum.s=='GC 22 sim'"}],
   "mark":{"type":"line","color":"#111","strokeWidth":1},
   "encoding":{
    "x":{"field":"x","type":"quantitative","scale":{"domain":[0,45]},"axis":{"values":[0,5,10,15,20,25,30,35,40,45],"tickCount":30,"title":"Phytomer rank","labelPadding":9,"titlePadding":5}},
    "y":{"field":"y","type":"quantitative","scale":{"domain":[0,25]},"axis":{"title":"Dry weight (g)","values":[0,5,10,15,20,25],"tickCount":30,"titlePadding":13.5,"labelOverlap":false}}
   }},
  {"data":{"name":"sim"},"transform":[{"filter":"datum.p=='D' && datum.s=='GC 15 sim'"}],
   "mark":{"type":"line","color":"#111","strokeWidth":1,"strokeDash":[1,2]},
   "encoding":{"x":{"field":"x","type":"quantitative"},"y":{"field":"y","type":"quantitative"}}},
  {"data":{"name":"obs"},"transform":[{"filter":"datum.p=='D'"}],
   "mark":{"type":"point","filled":true,"color":"#111","size":30,"opacity":1},
   "encoding":{
    "x":{"field":"x","type":"quantitative"},
    "y":{"field":"y","type":"quantitative"},
    "shape":{"field":"s","type":"nominal","scale":{"domain":["GC 5 obs","GC 15 obs","GC 22 obs","GC 32 obs","GC 42 obs"],"range":["circle","M1,0A1,1,0,1,1,-1,0A1,1,0,1,1,1,0ZM0.62,0A0.62,0.62,0,1,0,-0.62,0A0.62,0.62,0,1,0,0.62,0Z","M-1,-0.85L1,-0.85L0,0.95Z","M-1,-0.85L1,-0.85L0,0.95ZM-0.5,-0.55L0,0.35L0.5,-0.55Z","M-1,-1L1,-1L1,1L-1,1ZM-0.64,-0.64L-0.64,0.64L0.64,0.64L0.64,-0.64Z"]}}
   }},
  {"data":{"values":[{"label":"Fruit"}]},
   "mark":{"type":"text","align":"left","baseline":"middle","fontSize":16,"font":"Liberation Sans","color":"#111"},
   "encoding":{"x":{"datum":0.94,"type":"quantitative"},"y":{"datum":23.3,"type":"quantitative"},"text":{"field":"label"}}}
 ]
}
]
}
